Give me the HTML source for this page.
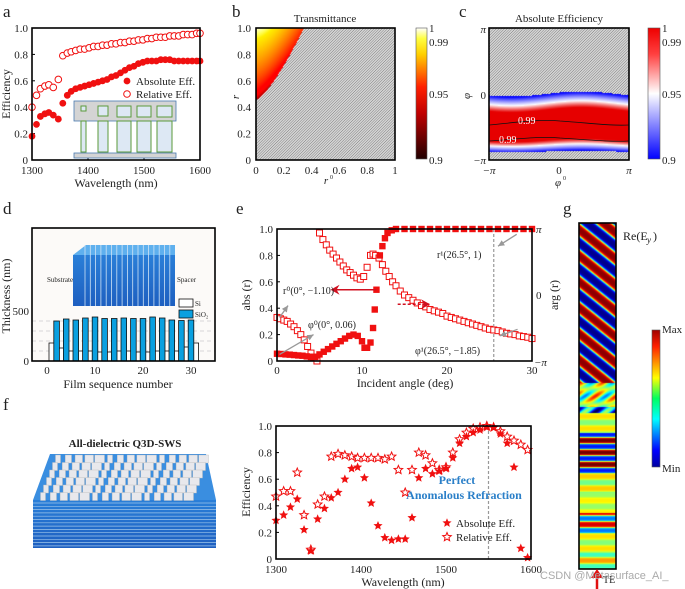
<!DOCTYPE html>
<html><head><meta charset="utf-8">
<style>
html,body{margin:0;padding:0;background:#fff;}
#wrap{position:relative;width:685px;height:589px;overflow:hidden;font-family:"Liberation Serif",serif;}
canvas{position:absolute;}
svg{position:absolute;left:0;top:0;}
text{font-family:"Liberation Serif",serif;fill:#222;}
</style></head>
<body>
<div id="wrap">
<canvas id="cb" width="139" height="132" style="left:256px;top:28px"></canvas>
<canvas id="cc" width="140" height="132" style="left:489px;top:28px"></canvas>
<canvas id="cg" width="37" height="346" style="left:579px;top:223px"></canvas>
<svg id="s" width="685" height="589" xmlns="http://www.w3.org/2000/svg">
<defs>
<linearGradient id="hot" x1="0" y1="1" x2="0" y2="0">
<stop offset="0" stop-color="#200000"/><stop offset="0.35" stop-color="#c00000"/><stop offset="0.55" stop-color="#ff2000"/><stop offset="0.8" stop-color="#ffd000"/><stop offset="0.92" stop-color="#ffff40"/><stop offset="1" stop-color="#ffffff"/>
</linearGradient>
<linearGradient id="bwr" x1="0" y1="1" x2="0" y2="0">
<stop offset="0" stop-color="#0000ff"/><stop offset="0.5" stop-color="#ffffff"/><stop offset="0.8" stop-color="#ff4040"/><stop offset="1" stop-color="#ee0000"/>
</linearGradient>
<linearGradient id="jet" x1="0" y1="1" x2="0" y2="0">
<stop offset="0" stop-color="#0000a0"/><stop offset="0.12" stop-color="#0000ff"/><stop offset="0.35" stop-color="#00ffff"/><stop offset="0.5" stop-color="#00ff60"/><stop offset="0.65" stop-color="#ffff00"/><stop offset="0.88" stop-color="#ff2000"/><stop offset="1" stop-color="#a00000"/>
</linearGradient>
<linearGradient id="blk" x1="0" y1="0" x2="0" y2="1">
<stop offset="0" stop-color="#2a7fd8"/><stop offset="1" stop-color="#1e5fc0"/>
</linearGradient>
</defs>
</svg>
</div>
<script>
// ---------- data ----------
const aWlAbs=[1300,1308,1315,1323,1330,1338,1347,1355,1363,1370,1378,1386,1394,1402,1410,1418,1426,1434,1442,1450,1458,1466,1474,1482,1490,1498,1506,1514,1522,1530,1538,1546,1554,1562,1570,1578,1586,1594,1600];
const aAbs=[0.18,0.27,0.33,0.35,0.36,0.34,0.31,0.43,0.49,0.52,0.54,0.55,0.56,0.57,0.58,0.59,0.60,0.61,0.63,0.64,0.66,0.68,0.70,0.71,0.73,0.74,0.75,0.75,0.75,0.76,0.76,0.76,0.75,0.75,0.75,0.75,0.75,0.75,0.75];
const aRel=[0.40,0.49,0.54,0.56,0.57,0.55,0.61,0.79,0.81,0.82,0.83,0.84,0.84,0.85,0.86,0.86,0.87,0.87,0.88,0.88,0.89,0.89,0.90,0.90,0.91,0.91,0.92,0.92,0.93,0.93,0.93,0.94,0.94,0.94,0.95,0.95,0.95,0.96,0.96];
const aXTicks=[1300,1400,1500,1600];
const effTicks=[0,0.2,0.4,0.6,0.8,1.0];
const effTickLabels=["0","0.2","0.4","0.6","0.8","1.0"];

const dSiN=[1,3,5,7,9,11,13,15,17,19,21,23,25,27,29,31];
const dSiH=[180,130,100,100,100,90,90,100,100,90,90,100,100,100,140,180];
const dSiO2N=[2,4,6,8,10,12,14,16,18,20,22,24,26,28,30];
const dSiO2H=[400,420,410,430,440,425,425,430,425,425,440,430,410,405,410];
const dXTicks=[0,10,20,30];

const eAngA=[0,0.5,1,1.5,2,2.5,3,3.5,4,4.5,5,5.5,6,6.5,7,7.5,8,8.5,9,9.5,10,10.3,10.6,11,11.3,11.5,11.7,12.1,12.4,12.7,13,13.5,14,15,16,17,18,19,20,21,22,23,24,25,26,27,28,29,30];
const eAbs=[0.055,0.053,0.05,0.048,0.045,0.042,0.04,0.035,0.03,0.03,0.05,0.07,0.09,0.11,0.13,0.15,0.17,0.19,0.2,0.19,0.15,0.10,0.10,0.14,0.25,0.39,0.54,0.80,0.87,0.93,0.97,0.99,1,1,1,1,1,1,1,1,1,1,1,1,1,1,1,1,1];
const eAngP=[0,0.4,0.8,1.2,1.6,2,2.4,2.8,3.2,3.6,4,4.3,4.7,5,5.4,5.8,6.2,6.6,7,7.4,7.8,8.2,8.6,9,9.4,9.8,10.2,10.6,11,11.3,11.6,12,12.4,12.8,13.2,13.6,14,14.5,15,15.5,16,16.5,17,17.5,18,18.5,19,19.5,20,20.5,21,21.5,22,22.5,23,23.5,24,24.5,25,25.5,26,26.5,27,27.5,28,28.5,29,29.5,30];
const ePhase=[0.33,0.32,0.31,0.30,0.28,0.26,0.23,0.20,0.16,0.11,0.06,0.03,0.0,0.97,0.92,0.88,0.84,0.81,0.78,0.75,0.72,0.69,0.67,0.65,0.63,0.62,0.64,0.71,0.80,0.81,0.80,0.78,0.73,0.68,0.64,0.60,0.57,0.53,0.50,0.48,0.46,0.44,0.42,0.41,0.39,0.38,0.37,0.36,0.34,0.33,0.32,0.31,0.30,0.29,0.28,0.27,0.26,0.25,0.24,0.235,0.23,0.22,0.21,0.205,0.2,0.19,0.185,0.18,0.17];
const eXTicks=[0,10,20,30];

const fWl=[1300,1309,1317,1325,1333,1341,1349,1357,1365,1373,1381,1389,1396,1404,1412,1420,1428,1436,1444,1452,1460,1468,1476,1484,1492,1500,1508,1516,1524,1532,1540,1548,1556,1564,1572,1580,1588,1596];
const fAbs=[0.29,0.33,0.39,0.45,0.22,0.06,0.30,0.38,0.46,0.50,0.60,0.68,0.69,0.61,0.42,0.25,0.16,0.14,0.15,0.15,0.31,0.61,0.68,0.64,0.66,0.68,0.76,0.87,0.92,0.95,0.97,0.99,0.99,0.94,0.87,0.69,0.08,0.01];
const fRel=[0.47,0.51,0.51,0.65,0.33,0.07,0.41,0.47,0.77,0.79,0.78,0.77,0.76,0.76,0.76,0.76,0.75,0.77,0.67,0.50,0.67,0.80,0.78,0.72,0.67,0.69,0.80,0.90,0.95,0.98,0.99,1.0,0.99,0.96,0.92,0.89,0.86,0.82];

// ---------- helpers ----------
const S=document.getElementById('s');
const NS='http://www.w3.org/2000/svg';
function mk(tag,attrs,parent){const e=document.createElementNS(NS,tag);for(const k in attrs)e.setAttribute(k,attrs[k]);(parent||S).appendChild(e);return e;}
function tx(x,y,str,size,anchor,name,extra){const e=mk('text',Object.assign({x:x,y:y,'font-size':size,'text-anchor':anchor||'start'},extra||{}));e.textContent=str;


return e;}
function star(cx,cy,r){let p='';for(let i=0;i<10;i++){const rr=i%2?r*0.45:r;const a=-Math.PI/2+i*Math.PI/5;p+=(i?'L':'M')+(cx+rr*Math.cos(a)).toFixed(2)+' '+(cy+rr*Math.sin(a)).toFixed(2);}return p+'Z';}
function frame(x0,y0,x1,y1,name){const r=mk('rect',{x:x0,y:y0,width:x1-x0,height:y1-y0,fill:'none',stroke:'#000','stroke-width':1.6});

}

[['a',3,17],['b',232,17],['c',459,17],['d',3,214],['e',236,214],['f',3,410],['g',563,214]].forEach(p=>{const t=tx(p[1],p[2],p[0],17,'start','panel-label-'+p[0]);});

// ---------- panel a ----------
const ax=w=>32+(w-1300)/300*168, ay=v=>160-v*132;
effTicks.forEach((v,i)=>{tx(28,ay(v)+4,effTickLabels[i],11,'end','a-y-tick');mk('line',{x1:32,x2:35,y1:ay(v),y2:ay(v),stroke:'#000'});});
aXTicks.forEach(w=>{tx(ax(w),174,String(w),11,'middle','a-x-tick');mk('line',{x1:ax(w),x2:ax(w),y1:160,y2:157,stroke:'#000'});});
tx(116,187,'Wavelength (nm)',12,'middle','a-x-axis-title');
tx(0,0,'Efficiency',12,'middle','a-y-axis-title',{transform:'translate(10,94) rotate(-90)'});
(function(){const g=mk('g',{});
mk('rect',{x:74,y:101,width:102,height:20,fill:'#d4d4d4',stroke:'#4a7ab0','stroke-width':0.8},g);
mk('rect',{x:74,y:153,width:102,height:5,fill:'#d4d4d4',stroke:'#4a7ab0','stroke-width':0.8},g);
const wsz=[5,10,14,14,15],xs=[81,98,117,137,157];
wsz.forEach((w,i)=>{mk('rect',{x:xs[i],y:106,width:w,height:Math.min(w,11),fill:'#dde8f4',stroke:'#5a9a3a','stroke-width':1},g);mk('rect',{x:xs[i],y:121,width:w,height:31,fill:'#dde8f4',stroke:'#5a9a3a','stroke-width':1},g);});})();
aWlAbs.forEach((w,i)=>{const c=mk('circle',{cx:ax(w),cy:ay(aRel[i]),r:3.3,fill:'#fff',stroke:'#f01010','stroke-width':1});

});
aWlAbs.forEach((w,i)=>{const c=mk('circle',{cx:ax(w),cy:ay(aAbs[i]),r:3.4,fill:'#f01010'});

});
mk('circle',{cx:127,cy:81,r:3.4,fill:'#f01010'});tx(136,85,'Absolute Eff.',11,'start','a-legend-absolute');
mk('circle',{cx:127,cy:94,r:3.3,fill:'#fff',stroke:'#f01010'});tx(136,98,'Relative Eff.',11,'start','a-legend-relative');
frame(32,28,200,160,'a-plot-frame');

// ---------- panel b ----------
tx(325,22,'Transmittance',11,'middle','b-title');
const bx=v=>256+v*139, by=v=>160-v*132;
[0,0.2,0.4,0.6,0.8,1.0].forEach((v,i)=>{tx(251,by(v)+4,effTickLabels[i],11,'end','b-y-tick');tx(bx(v),174,['0','0.2','0.4','0.6','0.8','1'][i],11,'middle','b-x-tick');});
tx(326,184,'r',11,'middle','b-x-axis-title',{'font-style':'italic'});tx(330,179,'0',6,'start','b-x-sup');
tx(0,0,'r',11,'middle','b-y-axis-title',{transform:'translate(239,97) rotate(-90)','font-style':'italic'});
mk('rect',{x:416,y:28,width:11,height:131,fill:'url(#hot)',stroke:'#555','stroke-width':0.6});
[['1',28],['0.99',42],['0.95',94],['0.9',160]].forEach(t=>tx(429,t[1]+4,t[0],11,'start','b-colorbar-tick'));
frame(256,28,395,160,'b-plot-frame');

// ---------- panel c ----------
tx(559,22,'Absolute Efficiency',11,'middle','c-title');
[['π',29],['0',95],['−π',160]].forEach(t=>tx(486,t[1]+4,t[0],11,'end','c-y-tick',{'font-style':t[0]=='0'?'normal':'italic'}));
[['−π',489],['0',559],['π',629]].forEach(t=>tx(t[1],174,t[0],11,'middle','c-x-tick',{'font-style':t[0]=='0'?'normal':'italic'}));
tx(558,186,'φ',11,'middle','c-x-axis-title',{'font-style':'italic'});tx(563,180,'0',6,'start','c-x-sup');
tx(0,0,'φ',11,'middle','c-y-axis-title',{transform:'translate(470,96) rotate(-90)','font-style':'italic'});
mk('rect',{x:648,y:28,width:12,height:131,fill:'url(#bwr)',stroke:'#555','stroke-width':0.6});
[['1',28],['0.99',42],['0.95',94],['0.9',160]].forEach(t=>tx(662,t[1]+4,t[0],11,'start','c-colorbar-tick'));
mk('path',{d:'M489 125 C520 122 540 119 560 121 C590 123 610 126 629 125',fill:'none',stroke:'#111','stroke-width':0.8});
mk('path',{d:'M489 141 C520 139 540 136 560 138 C590 140 610 142 629 141',fill:'none',stroke:'#111','stroke-width':0.8});
tx(518,124,'0.99',10,'start','c-contour-label',{style:'fill:#fff'});
tx(499,143,'0.99',10,'start','c-contour-label',{style:'fill:#fff'});
frame(489,28,629,160,'c-plot-frame');

// ---------- panel d ----------
const dx=n=>47+n*4.8, dy=h=>361-h*0.1;
mk('rect',{x:32,y:228,width:183,height:133,fill:'#fcfaf8'});
[100,200,300,400].forEach(h=>mk('line',{x1:32,x2:215,y1:dy(h),y2:dy(h),stroke:'#ccc','stroke-dasharray':'4 3','stroke-width':0.7}));
(function(){const g=mk('g',{});
mk('path',{d:'M73 255 L86 245 L175 245 L175 255 Z',fill:'#5fb0ee'},g);
mk('rect',{x:73,y:255,width:102,height:51,fill:'url(#blk)'},g);
for(let i=0;i<17;i++){mk('line',{x1:85+i*5.3,x2:85+i*5.3,y1:245,y2:306,stroke:'#cfe3f5','stroke-width':0.8},g);}
tx(47,282,'Substrate',7,'start','d-substrate-label');tx(177,282,'Spacer',7,'start','d-spacer-label');})();
dSiN.forEach((n,i)=>{const r=mk('rect',{x:dx(n)-2.8,y:dy(dSiH[i]),width:5.6,height:dSiH[i]*0.1,fill:'#fff',stroke:'#111','stroke-width':0.8});

});
dSiO2N.forEach((n,i)=>{const r=mk('rect',{x:dx(n)-2.8,y:dy(dSiO2H[i]),width:5.6,height:dSiO2H[i]*0.1,fill:'#0aa0e0',stroke:'#111','stroke-width':0.8});

});
mk('rect',{x:179,y:299,width:14,height:8,fill:'#fff',stroke:'#111','stroke-width':0.8});tx(195,306,'Si',7,'start','d-legend-si');
mk('rect',{x:179,y:310,width:14,height:8,fill:'#0aa0e0',stroke:'#111','stroke-width':0.8});tx(195,317,'SiO₂',7,'start','d-legend-sio2');
[[0,'0'],[500,'500']].forEach(t=>tx(29,dy(t[0])+4,t[1],11,'end','d-y-tick'));
dXTicks.forEach(n=>tx(dx(n),374,String(n),11,'middle','d-x-tick'));
tx(118,388,'Film sequence number',12,'middle','d-x-axis-title');
tx(0,0,'Thickness (nm)',12,'middle','d-y-axis-title',{transform:'translate(10,296) rotate(-90)'});
frame(32,228,215,361,'d-plot-frame');

// ---------- panel e ----------
const ex=a=>277+a/30*255, ey=v=>361-v*132;
effTicks.forEach((v,i)=>{tx(273,ey(v)+4,effTickLabels[i],11,'end','e-y-tick');mk('line',{x1:277,x2:280,y1:ey(v),y2:ey(v),stroke:'#000'});});
eXTicks.forEach(a=>tx(ex(a),374,String(a),11,'middle','e-x-tick'));
tx(536,233,'π',11,'start','e-right-tick',{'font-style':'italic'});tx(536,299,'0',11,'start','e-right-tick');tx(534,366,'−π',11,'start','e-right-tick',{'font-style':'italic'});
tx(405,387,'Incident angle (deg)',12,'middle','e-x-axis-title');
tx(0,0,'abs (r)',12,'middle','e-left-axis-title',{transform:'translate(250,295) rotate(-90)'});
tx(0,0,'arg (r)',12,'middle','e-right-axis-title',{transform:'translate(558,295) rotate(-90)'});
mk('line',{x1:ex(25.5),x2:ex(25.5),y1:229,y2:361,stroke:'#999','stroke-dasharray':'3 2','stroke-width':1.2});
eAngP.forEach((a,i)=>{const r=mk('rect',{x:ex(a)-3,y:ey(ePhase[i])-3,width:6,height:6,fill:'#fff',stroke:'#f01010','stroke-width':1});

});
eAngA.forEach((a,i)=>{const r=mk('rect',{x:ex(a)-3.2,y:ey(eAbs[i])-3.2,width:6.4,height:6.4,fill:'#f01010'});

});
mk('line',{x1:ex(11.7),x2:ex(7),y1:ey(0.54),y2:ey(0.54),stroke:'#d01020','stroke-width':1.5});
mk('path',{d:`M${ex(6.3)} ${ey(0.54)} l9 -5 l-3 5 l3 5 z`,fill:'#d01020'});
mk('line',{x1:ex(14.2),x2:ex(17.3),y1:ey(0.43),y2:ey(0.43),stroke:'#d01020','stroke-width':1.5,'stroke-dasharray':'3 2'});
mk('path',{d:`M${ex(18)} ${ey(0.43)} l-9 -5 l3 5 l-3 5 z`,fill:'#d01020'});
const gA=[[ex(0.3),ey(0.33),ex(1.3),ey(0.42)],[ex(0.3),ey(0.05),ex(4.3),ey(0.2)],[ex(28.2),ey(0.96),ex(26),ey(0.87)],[ex(28.3),ey(0.24),ex(26.2),ey(0.19)]];
gA.forEach(p=>{mk('line',{x1:p[0],y1:p[1],x2:p[2],y2:p[3],stroke:'#999','stroke-width':1.3});const ang=Math.atan2(p[3]-p[1],p[2]-p[0]);const L=7;
mk('path',{d:`M${p[2]} ${p[3]} L${p[2]-L*Math.cos(ang-0.45)} ${p[3]-L*Math.sin(ang-0.45)} L${p[2]-L*Math.cos(ang+0.45)} ${p[3]-L*Math.sin(ang+0.45)} Z`,fill:'#999'});});
tx(283,294,'r⁰(0°, −1.10)',10,'start','e-annotation-r0');
tx(308,328,'φ⁰(0°, 0.06)',10,'start','e-annotation-phi0');
tx(437,258,'r¹(26.5°, 1)',10,'start','e-annotation-r1');
tx(415,354,'φ¹(26.5°, −1.85)',10,'start','e-annotation-phi1');
frame(277,229,532,361,'e-plot-frame');

// ---------- panel f left image ----------
(function(){const g=mk('g',{});
tx(125,447,'All-dielectric Q3D-SWS',11,'middle','f-structure-title',{'font-weight':'bold'});
mk('path',{d:'M33 500 L50 454 L206 454 L216 500 Z',fill:'#3a8ee0'},g);
mk('rect',{x:33,y:500,width:183,height:48,fill:'url(#blk)'},g);
for(let i=0;i<14;i++)mk('line',{x1:33,x2:216,y1:503+i*3.3,y2:503+i*3.3,stroke:'#9cc4ea','stroke-width':0.7},g);
for(let r=0;r<6;r++){const yy=455+r*7.5;const x0=52-r*3;for(let c=0;c<15;c++){const w=(c%5)*1.2+5;mk('rect',{x:x0+c*10.4+(6-w/2),y:yy,width:w,height:8,fill:'#e8e8ec',stroke:'#bbb','stroke-width':0.4},g);}}
})();

// ---------- panel f chart ----------
const fx=w=>276+(w-1300)/300*255, fy=v=>559-v*133;
effTicks.forEach((v,i)=>{tx(272,fy(v)+4,effTickLabels[i],11,'end','f-y-tick');mk('line',{x1:276,x2:279,y1:fy(v),y2:fy(v),stroke:'#000'});});
aXTicks.forEach(w=>tx(fx(w),573,String(w),11,'middle','f-x-tick'));
tx(403,586,'Wavelength (nm)',12,'middle','f-x-axis-title');
tx(0,0,'Efficiency',12,'middle','f-y-axis-title',{transform:'translate(250,492) rotate(-90)'});
mk('line',{x1:fx(1550),x2:fx(1550),y1:426,y2:559,stroke:'#999','stroke-dasharray':'3 2','stroke-width':1.2});
fWl.forEach((w,i)=>{const p=mk('path',{d:star(fx(w),fy(fRel[i]),4.5),fill:'#fff',stroke:'#f01010','stroke-width':1});

});
fWl.forEach((w,i)=>{const p=mk('path',{d:star(fx(w),fy(fAbs[i]),4.8),fill:'#f01010'});

});
tx(457,484,'Perfect',12,'middle','f-annotation-perfect',{'font-weight':'bold',style:'fill:#2a7fc8'});
tx(464,499,'Anomalous Refraction',12,'middle','f-annotation-anomalous',{'font-weight':'bold',style:'fill:#2a7fc8'});
mk('path',{d:star(447,523,4.8),fill:'#f01010'});tx(456,527,'Absolute Eff.',11,'start','f-legend-absolute');
mk('path',{d:star(447,537,4.5),fill:'#fff',stroke:'#f01010'});tx(456,541,'Relative Eff.',11,'start','f-legend-relative');
frame(276,426,531,559,'f-plot-frame');

// ---------- panel g ----------
tx(623,240,'Re(E',12,'start','g-title');tx(647,243,'y',9,'start','g-title-sub',{'font-style':'italic'});tx(653,240,')',12,'start','g-title-close');
mk('rect',{x:652,y:330,width:8,height:137,fill:'url(#jet)',stroke:'#555','stroke-width':0.6});
tx(662,333,'Max',11,'start','g-colorbar-max');tx(662,472,'Min',11,'start','g-colorbar-min');
frame(579,223,616,569,'g-plot-frame');
mk('line',{x1:597,x2:597,y1:589,y2:572,stroke:'#e01010','stroke-width':2.5});
mk('path',{d:'M591 578 L597 569 L603 578 Z',fill:'#e01010'});
tx(603,583,'TE',10,'start','g-te-label');
tx(540,579,'CSDN @Metasurface_AI_',11,'start','watermark',{style:'fill:#aaa;font-family:"Liberation Sans",sans-serif'});

// ---------- canvases ----------
function hatch(ctx,w,h){ctx.fillStyle='#fff';ctx.fillRect(0,0,w,h);ctx.strokeStyle='#444';ctx.lineWidth=0.9;for(let k=-h;k<w+h;k+=2.7){ctx.beginPath();ctx.moveTo(k,h);ctx.lineTo(k+h,0);ctx.stroke();}}
(function(){const c=document.getElementById('cb'),ctx=c.getContext('2d');hatch(ctx,139,132);
const img=ctx.getImageData(0,0,139,132);
function hot(t){t=Math.max(0,Math.min(1,t));return [Math.min(255,50+t*2.6*255),Math.max(0,Math.min(255,(t-0.4)*1.8*255)),Math.max(0,(t-0.92)*10*255)];}
for(let py=0;py<132;py++){const r1=(132-py)/132;if(r1<0.46)continue;const b=0.34*Math.pow((r1-0.46)/0.54,0.75)*139;
for(let px=0;px<b;px++){const f=px/(b+1);const t=0.15+0.85*Math.pow((r1-0.46)/0.54,0.6)*(1-0.5*f*f)-0.1*f;const col=hot(t);const i=(py*139+px)*4;img.data[i]=col[0];img.data[i+1]=col[1];img.data[i+2]=col[2];img.data[i+3]=255;}}
ctx.putImageData(img,0,0);})();
(function(){const c=document.getElementById('cc'),ctx=c.getContext('2d');hatch(ctx,140,132);
const img=ctx.getImageData(0,0,140,132);
for(let px=0;px<140;px++){const s=Math.sin(px/140*2*Math.PI+0.6)*2.5;const top=66+s,bot=123+s*0.4,cen=99+s;
for(let py=Math.round(top);py<bot;py++){const d=py<cen?(cen-py)/(cen-top):(py-cen)/(bot-cen);const v=1-0.1*Math.pow(d,2.2);let r,g,b;
if(v<0.95){const t=(v-0.9)/0.05;r=t*255;g=t*255;b=255;}else{const t=Math.min(1,(v-0.95)/0.025);r=255-t*25;g=255*(1-t)*0.95;b=255*(1-t)*0.95;}
const i=(py*140+px)*4;img.data[i]=r;img.data[i+1]=g;img.data[i+2]=b;img.data[i+3]=255;}}
ctx.putImageData(img,0,0);})();
(function(){const c=document.getElementById('cg'),ctx=c.getContext('2d');const img=ctx.createImageData(37,346);
function jet(v){const cl=x=>Math.max(0,Math.min(1,x));return [cl(1.5-Math.abs(4*v-3))*255,cl(1.5-Math.abs(4*v-2))*255,cl(1.5-Math.abs(4*v-1))*255];}
for(let y=0;y<346;y++)for(let x=0;x<37;x++){let v;
if(y<160){v=0.5+0.5*Math.tanh(2.2*Math.sin((y-x*0.8)*2*Math.PI/26));}
else if(y<190){v=0.55+0.3*Math.sin(x*0.3+y*0.4)*Math.cos(y*0.2)-0.3*((y>183)?1:0);}
else{const amp=[0.08,0.45,0.45,0.1,0.06,0.35,0.08,0.15][Math.floor((y-190)/20)%8];v=0.58+amp*Math.tanh(2*Math.sin((y-190)*2*Math.PI/12));}
const col=jet(v);const i=(y*37+x)*4;img.data[i]=col[0];img.data[i+1]=col[1];img.data[i+2]=col[2];img.data[i+3]=255;}
ctx.putImageData(img,0,0);})();
</script>
</body></html>
